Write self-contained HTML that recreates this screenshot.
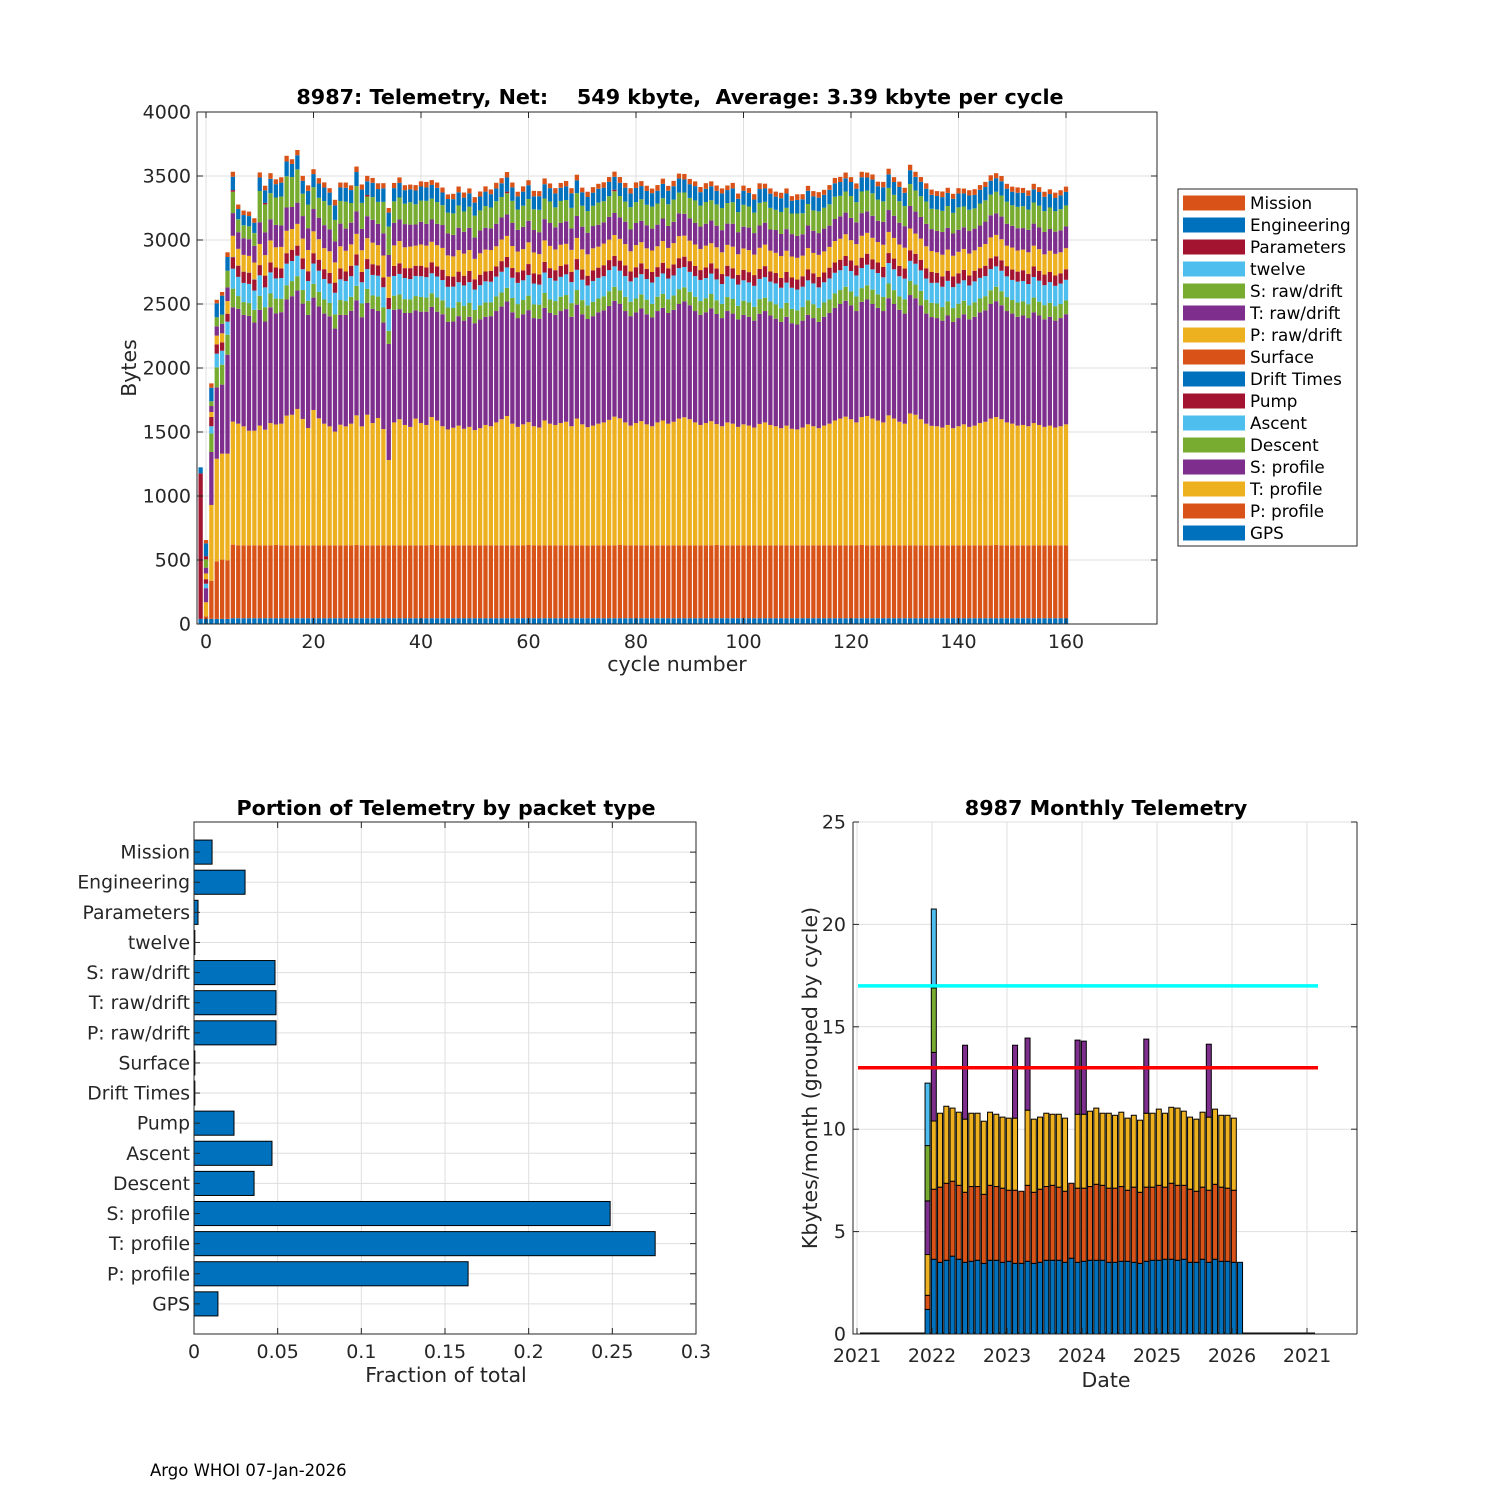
<!DOCTYPE html>
<html><head><meta charset="utf-8">
<style>
html,body{margin:0;padding:0;background:#fff;}
svg{display:block;font-family:"DejaVu Sans","Liberation Sans",sans-serif;}
</style></head>
<body>
<svg id="fig" width="1500" height="1500" viewBox="0 0 1500 1500" xmlns="http://www.w3.org/2000/svg">
<rect x="0" y="0" width="1500" height="1500" fill="#fff"/>
<g id="top"></g>
<g id="bl"></g>
<g id="br"></g>
<text x="150" y="1476" font-size="16.5" fill="#000">Argo WHOI 07-Jan-2026</text>
</svg>
<script>
// ===== Top chart data (cycles -1 .. 160) =====
const cycleStart = -1;
const gps = [40,40,40,40,40,40,45,45,45,45,45,
45,45,45,45,45,45,45,45,45,45,
45,45,45,45,45,45,45,45,45,45,
45,45,45,45,45,45,45,45,45,45,
45,45,45,45,45,45,45,45,45,45,
45,45,45,45,45,45,45,45,45,45,
45,45,45,45,45,45,45,45,45,45,
45,45,45,45,45,45,45,45,45,45,
45,45,45,45,45,45,45,45,45,45,
45,45,45,45,45,45,45,45,45,45,
45,45,45,45,45,45,45,45,45,45,
45,45,45,45,45,45,45,45,45,45,
45,45,45,45,45,45,45,45,45,45,
45,45,45,45,45,45,45,45,45,45,
45,45,45,45,45,45,45,45,45,45,
45,45,45,45,45,45,45,45,45,45,
45];
const pprof = [0,20,298,450,463,457,575,570,570,570,570,
570,570,570,572,570,570,570,570,570,570,
570,568,570,570,570,570,570,570,572,570,
570,570,570,570,570,570,570,570,570,570,
570,570,572,570,570,570,568,570,570,570,
570,570,570,570,570,570,570,570,570,570,
572,570,570,570,570,570,570,570,570,570,
570,568,570,570,570,570,570,572,570,570,
570,570,570,570,570,570,570,570,570,570,
570,570,570,570,570,572,570,570,570,570,
570,570,570,568,570,570,570,570,570,570,
570,570,570,570,570,570,570,570,570,570,
570,570,572,570,570,570,570,570,570,570,
570,570,570,570,570,568,570,570,570,570,
570,570,570,570,570,570,570,572,570,570,
570,570,570,570,570,570,570,570,570,570,
570];
const tprof = [0,110,592,801,828,834,961,950,929,895,895,
935,903,955,942,950,1013,1020,1065,987,916,1057,994,950,929,888,942,929,950,1013,929,
1020,955,994,908,666,
960,985,940,925,990,955,940,1000,975,930,
905,920,935,910,925,900,915,940,930,960,
985,1010,950,925,945,960,930,920,975,950,
940,955,965,930,990,945,925,935,950,960,
980,1005,990,960,935,955,970,945,930,960,
975,950,965,990,1000,985,960,940,955,970,
945,930,960,950,925,945,935,920,950,960,
940,930,915,935,910,905,920,945,930,915,
935,950,975,990,1005,985,960,1000,1010,990,
975,960,1015,990,965,950,1030,1020,985,950,
935,930,920,940,915,930,945,925,935,955,
965,990,1000,985,960,950,935,940,930,955,
940,925,935,920,930,945];
const sprof = [0,110,414,558,539,773,893,897,871,897,845,
904,845,904,868,871,907,926,925,901,884,878,874,860,860,805,858,871,881,899,853,
873,892,837,832,907,
880,860,875,890,845,870,885,860,850,875,
840,830,855,845,860,835,850,845,860,870,
880,895,870,850,860,875,845,850,880,865,
860,875,880,855,890,860,845,855,870,875,
890,905,895,870,855,865,880,860,850,870,
880,865,875,895,905,890,870,860,865,880,
860,845,870,860,840,855,850,835,860,870,
855,840,830,850,825,820,835,855,845,830,
850,865,880,895,905,890,870,900,910,895,
880,870,915,895,875,860,925,910,890,860,
850,845,835,855,830,845,860,840,850,865,
870,895,905,890,870,860,850,855,845,865,
855,840,850,835,845,860];
const desc = [0,0,144,156,156,156,146,100,100,100,100,
110,112,108,115,105,110,118,112,106,110,
108,114,110,104,112,116,108,110,113,107,
110,105,112,118,102,110,114,108,106,112,
115,110,107,111,109,113,106,110,115,108,
104,110,112,108,114,110,106,112,109,111,
113,107,110,116,105,108,112,110,107,114,
110,106,112,108,110,115,109,104,111,113,
108,110,114,106,112,109,107,111,116,110,
105,112,108,110,113,107,111,109,114,106,
110,112,108,115,104,110,113,107,109,112,
111,106,114,108,110,112,105,113,109,110,
108,114,107,111,112,106,110,115,108,104,
112,110,107,113,109,111,114,106,110,108,
112,105,110,114,108,111,107,113,110,109,
106,112,110,108,115,107,111,109,113,110,
108];
const asc = [0,35,57,107,109,102,156,150,150,150,150,
160,155,165,158,162,170,157,160,163,155,
158,165,160,152,168,162,157,161,159,166,
155,160,163,158,170,154,161,165,159,157,
162,160,156,164,158,161,167,155,160,163,
159,157,165,161,155,162,160,158,166,154,
161,163,157,160,168,159,155,162,164,158,
160,156,163,161,157,165,160,154,162,159,
163,158,161,167,155,160,162,157,164,159,
156,161,165,158,160,163,155,162,159,166,
160,157,164,158,161,155,163,160,158,165,
162,159,156,163,160,158,165,161,155,162,
160,164,157,161,159,166,154,160,163,158,
161,157,163,160,165,156,162,159,161,164,
158,160,155,163,161,157,166,159,160,162,
157,163,160,158,161,165,156,162,159,160,
161];
const pump = [0,35,72,73,65,62,89,85,85,85,85,
80,92,78,85,75,82,88,79,84,76,
81,86,77,83,79,85,74,82,87,80,
78,84,81,76,88,79,83,77,85,80,
82,75,86,79,81,84,78,83,76,87,
80,82,77,85,79,83,81,76,84,78,
86,80,79,83,77,82,85,78,81,84,
79,76,83,80,86,78,82,79,84,77,
81,85,79,82,76,83,80,87,78,81,
84,79,77,82,80,85,78,83,81,76,
82,80,84,78,86,79,81,77,83,80,
78,82,85,79,81,76,84,80,82,78,
83,79,81,86,77,82,80,78,84,81,
79,83,77,82,80,85,78,81,79,84,
80,82,78,83,76,81,85,79,82,80,
81,78,84,80,82,77,83,79,81,80,
82];
const drift = [0,0,0,0,0,0,2,2,2,2,2];
const surface = [0,0,0,0,0,0,2,2,2,2,2];
const praw = [0,45,39,68,71,99,164,130,130,130,130,
165,160,172,158,168,175,162,170,155,166,
171,160,164,169,158,173,162,167,160,170,
163,168,158,172,165,160,174,163,169,157,
166,171,160,165,170,162,158,168,173,164,
160,167,171,163,158,169,165,172,161,166,
170,163,159,168,174,162,166,160,171,165,
158,167,172,164,169,160,163,170,166,158,
173,165,161,168,163,170,159,166,172,164,
160,168,165,171,157,166,170,163,169,161,
167,172,160,165,168,163,158,171,166,164,
170,161,167,159,173,165,162,168,164,170,
158,166,171,163,169,160,174,165,161,167,
163,170,158,166,172,164,160,169,165,161,
168,163,171,159,166,170,162,167,164,160,
172,165,161,168,163,170,158,166,169,164,
165];
const traw = [0,45,47,73,75,107,177,130,130,130,130,
170,178,165,175,168,182,172,166,176,170,
174,168,180,171,165,177,173,169,175,167,
172,179,166,174,170,176,168,181,171,165,
177,170,174,167,179,172,168,175,170,173,
166,178,171,169,176,172,167,180,170,174,
168,175,171,166,179,173,170,176,168,172,
177,169,174,171,166,178,172,168,175,170,
173,167,180,171,169,176,172,166,178,170,
174,168,175,171,177,169,173,166,179,172,
170,176,168,174,171,165,178,172,169,175,
171,167,176,173,170,178,166,172,175,169,
174,170,177,168,172,166,179,171,173,170,
168,176,172,169,175,171,167,178,170,174,
172,169,176,170,167,175,173,168,177,171,
170,174,168,176,172,169,175,170,173,171,
170];
const sraw = [0,65,37,70,71,130,166,100,100,100,100,
244,218,204,214,226,244,234,260,175,185,
170,156,188,188,167,177,211,154,198,203,
154,177,172,245,222,
168,172,160,175,158,166,180,163,170,155,
162,168,174,159,165,171,157,169,163,176,
160,167,173,158,165,170,162,175,161,168,
156,172,166,160,178,164,169,158,173,165,
161,170,166,157,175,163,168,160,172,165,
158,169,174,162,167,160,176,164,170,159,
166,173,161,168,157,171,165,160,177,163,
169,158,172,166,161,175,164,168,159,170,
163,167,174,160,165,171,158,169,162,176,
166,160,173,164,168,157,171,165,162,174,
159,168,165,170,161,175,163,167,158,172,
166,161,169,164,173,160,167,171,158,165,
170,163,168,161,166,164];
const twelve = [0,0,0,0,0,0,1,1,1,1,1];
const params = [1137,25,0,0,0,0,13,0,0,0,0,
0,12,0,0,0,0,0,0,0,0,
0,0,0,0,0,0,0,0,0,0,
12,0,0,0,0,0,0,0,0,0,
0,0,0,0,0,0,0,0,0,0,
0,0,0,0,0,0,12,0,0,0,
0,0,0,0,0,0,0,0,0,0,
0,0,0,0,0,0,12,0,0,0,
0,0,0,0,0,0,0,0,0,0,
0,0,0,0,0,0,0,0,0,0,
0,0,0,0,0,0,0,0,0,0,
0,0,0,0,0,0,0,0,0,0,
0,0,0,0,0,0,0,0,0,0,
0,0,0,0,0,0,0,0,0,0,
0,0,0,0,0,0,0,0,0,0,
0,0,0,0,0,0,0,0,0,0,
0];
const eng = [47,100,106,109,148,107,104,80,80,80,80,
105,98,112,104,108,115,102,110,100,107,
103,111,106,99,113,105,108,101,110,104,
107,112,100,106,109,103,114,105,101,108,
110,104,107,112,99,106,111,103,108,105,
102,109,113,104,100,107,111,105,103,110,
108,101,106,112,104,109,103,107,114,100,
105,110,103,108,106,112,101,104,109,107,
111,103,108,105,100,113,106,104,110,102,
107,112,105,103,109,106,114,101,108,104,
110,106,102,108,105,111,103,107,112,100,
106,109,104,110,107,101,113,105,108,103,
109,105,111,102,107,104,110,106,100,112,
104,108,106,113,101,109,105,107,103,110,
108,102,111,105,107,104,109,106,112,101,
106,110,104,108,103,107,111,105,102,108,
106];
const mission = [0,26,34,28,29,37,39,35,35,35,35,
40,36,44,38,42,45,37,41,39,43,
38,42,40,35,44,39,41,37,43,40,
42,38,45,40,36,41,43,39,37,42,
40,44,38,41,39,36,42,45,40,38,
43,39,41,37,44,40,42,38,36,41,
39,43,40,45,37,41,38,42,40,44,
36,41,43,39,42,38,40,45,37,41,
43,39,41,36,44,40,38,42,39,43,
41,37,40,44,38,42,39,36,43,41,
40,38,42,45,37,41,39,43,40,36,
44,40,38,41,43,39,37,42,40,45,
38,41,43,39,40,36,42,44,38,41,
39,43,40,37,42,41,38,44,40,39,
42,38,41,45,37,40,43,39,41,38,
40,42,39,41,43,38,40,37,42,40,
41];
const seriesNames = ["GPS","P: profile","T: profile","S: profile","Descent","Ascent","Pump","Drift Times","Surface","P: raw/drift","T: raw/drift","S: raw/drift","twelve","Parameters","Engineering","Mission"];
const seriesData = [gps,pprof,tprof,sprof,desc,asc,pump,drift,surface,praw,traw,sraw,twelve,params,eng,mission];
const topYTicks = [0,500,1000,1500,2000,2500,3000,3500,4000];
const topXTicks = [0,20,40,60,80,100,120,140,160];

// ===== Bottom-left data =====
const packetTypes = ["GPS","P: profile","T: profile","S: profile","Descent","Ascent","Pump","Drift Times","Surface","P: raw/drift","T: raw/drift","S: raw/drift","twelve","Parameters","Engineering","Mission"];
const fractions = [0.0143,0.1638,0.2756,0.2487,0.0359,0.0466,0.0239,0.0005,0.0005,0.0490,0.0490,0.0484,0.0005,0.0024,0.0305,0.0108];
const fracTicks = [0,0.05,0.1,0.15,0.2,0.25,0.3];
const fracTickLabels = ["0","0.05","0.1","0.15","0.2","0.25","0.3"];

// ===== Bottom-right data (months Dec-2021 .. Feb-2026) =====
const monthStartYear = 2021, monthStartMonth = 12;
const mBlue = [1.2,3.65,3.5,3.6,3.8,3.65,3.5,3.55,3.6,3.45,3.6,3.6,3.5,3.55,3.45,3.45,3.55,3.45,3.5,3.6,3.6,3.6,3.5,3.7,3.5,3.55,3.6,3.6,3.6,3.5,3.5,3.55,3.55,3.5,3.45,3.55,3.6,3.6,3.65,3.65,3.6,3.65,3.5,3.5,3.65,3.5,3.65,3.55,3.55,3.5,3.5];
const mOrange = [0.69,3.42,3.67,3.76,3.66,3.61,3.42,3.65,3.6,3.37,3.66,3.6,3.62,3.47,3.57,3.52,3.71,3.47,3.57,3.6,3.66,3.57,3.47,3.66,3.62,3.57,3.6,3.71,3.66,3.62,3.62,3.65,3.47,3.67,3.47,3.62,3.57,3.66,3.52,3.71,3.66,3.61,3.57,3.47,3.52,3.52,3.66,3.62,3.57,3.52,0];
const mYellow = [1.99,3.33,3.61,3.76,3.57,3.57,3.57,3.58,3.58,3.57,3.57,3.53,3.47,3.52,3.52,0,3.67,3.57,3.52,3.58,3.47,3.56,3.57,0,3.61,3.61,3.68,3.72,3.52,3.66,3.56,3.63,3.52,3.51,3.52,3.61,3.61,3.72,3.61,3.71,3.77,3.62,3.52,3.52,3.66,3.57,3.67,3.51,3.56,3.52,0];
const mPurple = [2.62,3.35,0,0,0,0,3.61,0,0,0,0,0,0,0,3.56,0,3.52,0,0,0,0,0,0,0,3.62,3.57,0,0,0,0,0,0,0,0,0,3.62,0,0,0,0,0,0,0,0,0,3.56,0,0,0,0,0];
const mGreen = [2.7,3.15];
const mLightBlue = [3.05,3.85];
const monthYTicks = [0,5,10,15,20,25];
const yearTicks = [2021,2022,2023,2024,2025,2026,2027];
const yearTickLabels = ["2021","2022","2023","2024","2025","2026","2021"];
const thresholdHigh = 17, thresholdLow = 13;

const C = ['#0072BD','#D95319','#EDB120','#7E2F8E','#77AC30','#4DBEEE','#A2142F'];
const NS = 'http://www.w3.org/2000/svg';
function mk(parent, tag, attrs, text){
  const e = document.createElementNS(NS, tag);
  for (const k in attrs) e.setAttribute(k, attrs[k]);
  if (text !== undefined) e.textContent = text;
  parent.appendChild(e);
  return e;
}
const AX = '#262626', GRID = '#dfdfdf';
const TF = 19, LF = 20.5, TT = 20.7;

// ---------- TOP ----------
(function(){
  const g = document.getElementById('top');
  const L=197,R=1157,T=112,B=624;
  const xs = v => 206 + v*5.375;
  const ys = v => B - v*(B-T)/4000;
  const bg = mk(g,'rect',{x:L,y:T,width:R-L,height:B-T,fill:'#fff'});
  
  
  topYTicks.forEach(v=>{
    const gl = mk(g,'line',{x1:L,x2:R,y1:ys(v),y2:ys(v),stroke:GRID,'stroke-width':1});
    
    
  });
  topXTicks.forEach(v=>{
    const gl = mk(g,'line',{x1:xs(v),x2:xs(v),y1:T,y2:B,stroke:GRID,'stroke-width':1});
    
    
  });
  const n = tprof.length;
  const bw = 0.8*5.375;
  for (let i=0;i<n;i++){
    const c = cycleStart + i;
    let acc = 0;
    seriesData.forEach((arr,s)=>{
      const v = arr[i]||0;
      if (v<=0) return;
      const r = mk(g,'rect',{x:xs(c)-bw/2,y:ys(acc+v),width:bw,height:ys(acc)-ys(acc+v),fill:C[s%7]});
      
      
      acc += v;
    });
  }
  const box = mk(g,'rect',{x:L,y:T,width:R-L,height:B-T,fill:'none',stroke:AX,'stroke-width':1});
  
  
  topYTicks.forEach(v=>{
    mk(g,'line',{x1:L,x2:L+6,y1:ys(v),y2:ys(v),stroke:AX});
    mk(g,'line',{x1:R,x2:R-6,y1:ys(v),y2:ys(v),stroke:AX});
    const t = mk(g,'text',{x:L-6,y:ys(v)+6.5,'font-size':TF,'text-anchor':'end',fill:AX},String(v));
    
    
  });
  topXTicks.forEach(v=>{
    mk(g,'line',{x1:xs(v),x2:xs(v),y1:B,y2:B-6,stroke:AX});
    mk(g,'line',{x1:xs(v),x2:xs(v),y1:T,y2:T+6,stroke:AX});
    const t = mk(g,'text',{x:xs(v),y:B+24,'font-size':TF,'text-anchor':'middle',fill:AX},String(v));
    
    
  });
  const ttl = mk(g,'text',{x:680,y:104,'font-size':TT,'font-weight':'bold','text-anchor':'middle',fill:'#000'},'8987: Telemetry, Net:    549 kbyte,  Average: 3.39 kbyte per cycle');
  ttl.setAttribute('style','white-space:pre');
  
  
  const xl = mk(g,'text',{x:677,y:671,'font-size':LF,'text-anchor':'middle',fill:AX},'cycle number');
  
  
  const yl = mk(g,'text',{x:0,y:0,'font-size':LF,'text-anchor':'middle',fill:AX,transform:'translate(136,368) rotate(-90)'},'Bytes');
  
  
  const lg = mk(g,'g',{});
  
  
  const lb = mk(lg,'rect',{x:1178,y:189,width:179,height:357,fill:'#fff',stroke:AX,'stroke-width':1});
  
  
  for (let k=0;k<seriesNames.length;k++){
    const s = seriesNames.length-1-k;
    const yc = 203 + k*22;
    const e = mk(lg,'g',{});
    
    
    mk(e,'rect',{x:1183,y:yc-7.5,width:62,height:15,fill:C[s%7]});
    mk(e,'text',{x:1250,y:yc+6,'font-size':16.8,fill:'#000'},seriesNames[s]);
  }
})();

// ---------- BOTTOM LEFT ----------
(function(){
  const g = document.getElementById('bl');
  const L=194,R=696,T=822,B=1334;
  const xs = v => L + v*(R-L)/0.3;
  const step = (B-T)/17;
  fracTicks.forEach(v=>{
    const gl = mk(g,'line',{x1:xs(v),x2:xs(v),y1:T,y2:B,stroke:GRID});
    
    
  });
  packetTypes.forEach((n,i)=>{
    const y = B - (i+1)*step;
    mk(g,'line',{x1:L,x2:R,y1:y,y2:y,stroke:GRID});
  });
  packetTypes.forEach((n,i)=>{
    const y = B - (i+1)*step;
    const h = 0.8*step;
    const r = mk(g,'rect',{x:xs(0),y:y-h/2,width:Math.max(0.5,xs(fractions[i])-xs(0)),height:h,fill:'#0072BD',stroke:'#000','stroke-width':1});
    
    
    mk(g,'line',{x1:L,x2:L+6,y1:y,y2:y,stroke:AX});
    mk(g,'line',{x1:R,x2:R-6,y1:y,y2:y,stroke:AX});
    const t = mk(g,'text',{x:L-4,y:y+6.5,'font-size':18.8,'text-anchor':'end',fill:AX},n);
    
    
  });
  const box = mk(g,'rect',{x:L,y:T,width:R-L,height:B-T,fill:'none',stroke:AX});
  
  
  fracTicks.forEach((v,k)=>{
    mk(g,'line',{x1:xs(v),x2:xs(v),y1:B,y2:B-6,stroke:AX});
    mk(g,'line',{x1:xs(v),x2:xs(v),y1:T,y2:T+6,stroke:AX});
    const t = mk(g,'text',{x:xs(v),y:B+24,'font-size':TF,'text-anchor':'middle',fill:AX},fracTickLabels[k]);
    
    
  });
  const ttl = mk(g,'text',{x:446,y:815,'font-size':TT,'font-weight':'bold','text-anchor':'middle',fill:'#000'},'Portion of Telemetry by packet type');
  
  
  const xl = mk(g,'text',{x:446,y:1382,'font-size':LF,'text-anchor':'middle',fill:AX},'Fraction of total');
  
  
})();

// ---------- BOTTOM RIGHT ----------
(function(){
  const g = document.getElementById('br');
  const L=853,R=1357,T=822,B=1334;
  const xd = yr => 932 + (yr-2022)*75;
  const ys = v => B - v*(B-T)/25;
  monthYTicks.forEach(v=>{
    const gl = mk(g,'line',{x1:L,x2:R,y1:ys(v),y2:ys(v),stroke:GRID});
    
    
  });
  yearTicks.forEach(v=>{
    const gl = mk(g,'line',{x1:xd(v),x2:xd(v),y1:T,y2:B,stroke:GRID});
    
    
  });
  const zl = mk(g,'line',{x1:860,x2:1315,y1:B-0.5,y2:B-0.5,stroke:'#000','stroke-width':2});
  
  
  const segs = [mBlue,mOrange,mYellow,mPurple,mGreen,mLightBlue];
  const segCols = [C[0],C[1],C[2],C[3],C[4],C[5]];
  const segNames = ['blue','orange','yellow','purple','green','lightblue'];
  for (let i=0;i<mBlue.length;i++){
    const yr = monthStartYear + (monthStartMonth-1+i)/12;
    const xc = xd(yr) + 1.8;
    const bw = 5;
    let acc = 0;
    segs.forEach((arr,s)=>{
      const v = arr[i]||0;
      if (v<=0) return;
      const r = mk(g,'rect',{x:xc-bw/2,y:ys(acc+v),width:bw,height:ys(acc)-ys(acc+v),fill:segCols[s],stroke:'#000','stroke-width':1});
      
      
      acc += v;
    });
  }
  const cy = mk(g,'line',{x1:858,x2:1318,y1:ys(thresholdHigh),y2:ys(thresholdHigh),stroke:'#00FFFF','stroke-width':3.5});
  
  
  const rd = mk(g,'line',{x1:858,x2:1318,y1:ys(thresholdLow),y2:ys(thresholdLow),stroke:'#FF0000','stroke-width':3.5});
  
  
  const box = mk(g,'path',{d:`M${L},${T} V${B} H${R} M${R},${T} V${B}`,fill:'none',stroke:AX});
  
  
  monthYTicks.forEach(v=>{
    mk(g,'line',{x1:L,x2:L+6,y1:ys(v),y2:ys(v),stroke:AX});
    mk(g,'line',{x1:R,x2:R-6,y1:ys(v),y2:ys(v),stroke:AX});
    const t = mk(g,'text',{x:L-7,y:ys(v)+6.5,'font-size':TF,'text-anchor':'end',fill:AX},String(v));
    
    
  });
  yearTicks.forEach((v,k)=>{
    mk(g,'line',{x1:xd(v),x2:xd(v),y1:B,y2:B-6,stroke:AX});
    const t = mk(g,'text',{x:xd(v),y:B+28,'font-size':TF,'text-anchor':'middle',fill:AX},yearTickLabels[k]);
    
    
  });
  const ttl = mk(g,'text',{x:1106,y:815,'font-size':TT,'font-weight':'bold','text-anchor':'middle',fill:'#000'},'8987 Monthly Telemetry');
  
  
  const xl = mk(g,'text',{x:1106,y:1387,'font-size':LF,'text-anchor':'middle',fill:AX},'Date');
  
  
  const yl = mk(g,'text',{x:0,y:0,'font-size':LF,'text-anchor':'middle',fill:AX,transform:'translate(817,1078) rotate(-90)'},'Kbytes/month (grouped by cycle)');
  
  
})();
</script>
</body></html>
